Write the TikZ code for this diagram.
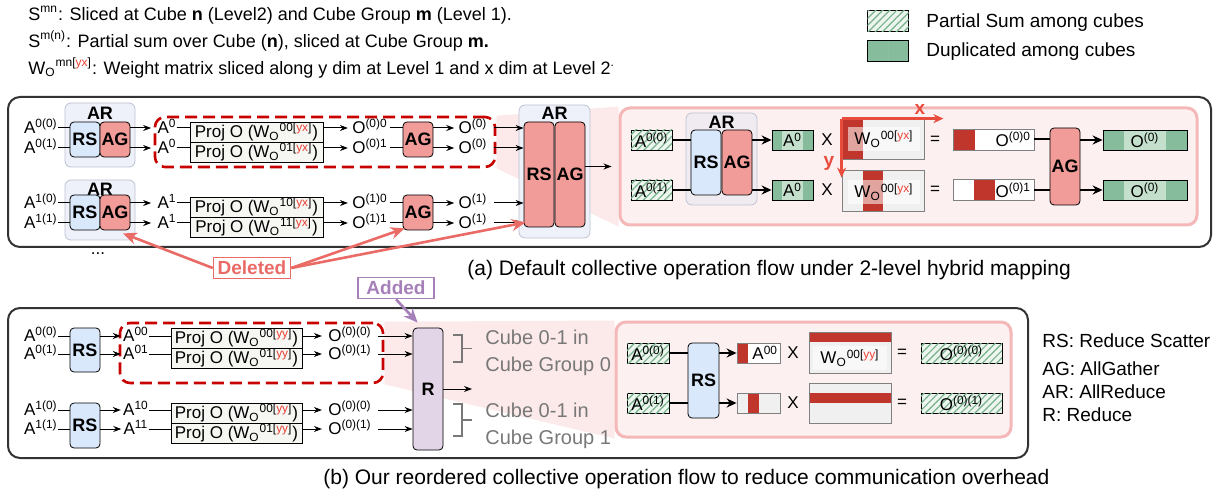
\documentclass[tikz,border=0pt]{standalone}
\usepackage{fontspec}
\setmainfont{Liberation Sans}
\usepackage{xcolor}
\usepackage{tikz}
\usetikzlibrary{arrows.meta, positioning, calc, patterns.meta}

\definecolor{argrpfill}{RGB}{238,241,250}
\definecolor{argrpline}{RGB}{190,195,210}
\definecolor{iargrpfill}{RGB}{240,235,240}
\definecolor{rsfill}{RGB}{218,232,252}
\definecolor{agfill}{RGB}{241,156,153}
\definecolor{rfill}{RGB}{225,213,231}
\definecolor{projfill}{RGB}{246,246,242}
\definecolor{dashred}{RGB}{200,0,0}
\definecolor{panelfill}{RGB}{253,240,240}
\definecolor{panelline}{RGB}{244,184,184}
\definecolor{funnelpink}{RGB}{252,230,230}
\definecolor{dupgreen}{RGB}{134,187,155}
\definecolor{dupmid}{RGB}{196,224,204}
\definecolor{hatchgreen}{RGB}{120,176,140}
\definecolor{hatchbg}{RGB}{236,245,238}
\definecolor{blockred}{RGB}{192,54,44}
\definecolor{wfill}{RGB}{240,240,240}
\definecolor{labred}{RGB}{232,64,52}
\definecolor{delred}{RGB}{234,107,102}
\definecolor{addpurple}{RGB}{166,128,184}
\definecolor{axisred}{RGB}{232,76,61}
\definecolor{cubegray}{RGB}{120,120,120}

\newcommand{\sps}[1]{\textsuperscript{#1}}
\newcommand{\Wo}[2]{W\textsubscript{O}\textsuperscript{#1[\textcolor{labred}{#2}]}}

\pgfdeclarelayer{bg}
\pgfsetlayers{bg,main}

\begin{document}
\begin{tikzpicture}[x=0.5pt, y=-0.5pt,
    >={Stealth[length=4pt,width=3pt]},
    every node/.style={inner sep=0pt, font=\fontsize{8.5}{10}\selectfont},
    op/.style={draw, rounded corners=2pt, minimum width=15pt, font=\fontsize{9}{10}\selectfont\bfseries},
    rsop/.style={op, fill=rsfill},
    agop/.style={op, fill=agfill},
    rop/.style={op, fill=rfill},
    grp/.style={draw=argrpline, fill=argrpfill, rounded corners=3pt},
    grplbl/.style={font=\fontsize{9}{10}\selectfont\bfseries},
    proj/.style={draw, fill=projfill, minimum height=10pt},
    dsh/.style={draw=dashred, dash pattern=on 6pt off 3pt, line width=1.3pt, rounded corners=5pt},
    pnl/.style={draw=panelline, fill=panelfill, line width=1.5pt, rounded corners=5pt},
    hat/.style={draw, fill=hatchbg, minimum height=10pt,
      postaction={pattern={Lines[angle=45,distance=2.5pt,line width=0.6pt]}, pattern color=hatchgreen}},
    dup/.style={draw, fill=dupgreen, minimum height=10pt,
      path picture={\fill[dupmid] ([xshift=-#1]path picture bounding box.south) rectangle ([xshift=#1]path picture bounding box.north);}},
    wbx/.style={draw=gray, fill=wfill, minimum width=41pt},
    obx/.style={draw=gray, fill=white, minimum height=10.5pt},
    redcol/.style 2 args={path picture={\fill[blockred] ([xshift=#1]path picture bounding box.south west) rectangle ([xshift=#2]path picture bounding box.north west);}},
    redrow/.style 2 args={path picture={\fill[blockred] ([yshift=-#1]path picture bounding box.north west) rectangle ([yshift=-#2]path picture bounding box.north east);}},
    wlbl/.style={fill=white, fill opacity=0.55, text opacity=1, minimum width=36pt, minimum height=12pt},
    flw/.style={->, line width=0.5pt},
    lnk/.style={line width=0.5pt},
    pflw/.style={-{Stealth[length=5pt,width=4.5pt]}, line width=1pt},
    plnk/.style={line width=1pt},
    axarr/.style={-{Stealth[length=5pt,width=4.5pt]}, draw=axisred, line width=1.2pt},
    axlbl/.style={text=axisred, font=\fontsize{9.5}{10}\selectfont\bfseries},
    frm/.style={draw=black!80, line width=1pt, rounded corners=6pt, fill=white},
    funnel/.style={fill=funnelpink, fill opacity=0.85},
    dellbl/.style={draw=delred, text=delred, fill=white, line width=0.8pt, font=\fontsize{9.5}{11}\selectfont\bfseries},
    delarr/.style={-{Stealth[length=7pt,width=6pt]}, draw=delred, line width=1.3pt},
    addlbl/.style={draw=addpurple, text=addpurple, fill=white, line width=0.8pt, font=\fontsize{9.5}{11}\selectfont\bfseries},
    addarr/.style={-{Stealth[length=7pt,width=6pt]}, draw=addpurple, line width=1.3pt},
    gtxt/.style={anchor=mid west, text=cubegray, font=\fontsize{10}{12}\selectfont},
    brk/.style={draw=cubegray, line width=0.9pt},
    hdr/.style={anchor=mid west, font=\fontsize{9}{11}\selectfont},
    capt/.style={anchor=mid west, font=\fontsize{10.5}{12}\selectfont},
    leg/.style={anchor=mid west, font=\fontsize{9.5}{11}\selectfont}]
  \useasboundingbox (0,0) rectangle (1225,497);

  % notation and legend
  \node[hdr] (h1) at (28,15) {S\sps{mn}: Sliced at Cube \textbf{n} (Level2) and Cube Group \textbf{m} (Level 1).};
  \node[hdr] (h2) at (28,42) {S\sps{m(n)}: Partial sum over Cube (\textbf{n}), sliced at Cube Group \textbf{m.}};
  \node[hdr] (h3) at (28,69) {\Wo{mn}{yx}: Weight matrix sliced along y dim at Level 1 and x dim at Level 2\sps{.}};
  \node[hat, minimum width=20.5pt, minimum height=10.5pt] (lgh) at (888,21) {};
  \node[leg] (lghtxt) at (926,22) {Partial Sum among cubes};
  \node[dup=0pt, minimum width=20.5pt, minimum height=10.5pt] (lgd) at (888,51) {};
  \node[leg] (lgdtxt) at (926,51) {Duplicated among cubes};

  % (a) default flow
  \node[pnl, minimum width=288.5pt, minimum height=58.5pt] (pna) at (908.5,166.5) {};
  \node[dsh, minimum width=170pt, minimum height=25pt] (dsa) at (325,142) {};

  \node[grp, minimum width=35pt, minimum height=32pt] (ar1) at (100,135) {};
  \node[grplbl] (ar1lbl) at (100,113) {AR};
  \node[rsop, minimum height=17.5pt] (rs1) at (85,139.5) {RS};
  \node[agop, minimum height=17.5pt] (ag1) at (115,139.5) {AG};
  \node[grp, minimum width=35pt, minimum height=30pt] (ar2) at (100,210) {};
  \node[grplbl] (ar2lbl) at (100,189) {AR};
  \node[rsop, minimum height=17.5pt] (rs2) at (85,212.5) {RS};
  \node[agop, minimum height=17.5pt] (ag2) at (115,212.5) {AG};

  \node[anchor=mid east] (a00) at (58,128) {A\sps{0(0)}};
  \node[anchor=mid east] (a01) at (58,148) {A\sps{0(1)}};
  \node[anchor=mid east] (a10) at (58,203) {A\sps{1(0)}};
  \node[anchor=mid east] (a11) at (58,223) {A\sps{1(1)}};
  \draw[lnk] (a00.mid east) -- (a00.mid east -| rs1.west);
  \draw[lnk] (a01.mid east) -- (a01.mid east -| rs1.west);
  \draw[lnk] (a10.mid east) -- (a10.mid east -| rs2.west);
  \draw[lnk] (a11.mid east) -- (a11.mid east -| rs2.west);

  \node[anchor=mid] (b00) at (167,128) {A\sps{0}};
  \node[anchor=mid] (b01) at (167,148) {A\sps{0}};
  \node[anchor=mid] (b10) at (167,203) {A\sps{1}};
  \node[anchor=mid] (b11) at (167,223) {A\sps{1}};
  \draw[flw, shorten >=3pt] (b00.mid west -| ag1.east) -- (b00.mid west);
  \draw[flw, shorten >=3pt] (b01.mid west -| ag1.east) -- (b01.mid west);
  \draw[flw, shorten >=3pt] (b10.mid west -| ag2.east) -- (b10.mid west);
  \draw[flw, shorten >=3pt] (b11.mid west -| ag2.east) -- (b11.mid west);

  \node[proj, minimum width=66.5pt] (pj00) at (256.5,132) {Proj O (\Wo{00}{yx})};
  \node[proj, minimum width=66.5pt] (pj01) at (256.5,152) {Proj O (\Wo{01}{yx})};
  \node[proj, minimum width=66.5pt] (pj10) at (256.5,207) {Proj O (\Wo{10}{yx})};
  \node[proj, minimum width=66.5pt] (pj11) at (256.5,227) {Proj O (\Wo{11}{yx})};
  \draw[lnk] (b00.mid east) -- (b00.mid east -| pj00.west);
  \draw[lnk] (b01.mid east) -- (b01.mid east -| pj01.west);
  \draw[lnk] (b10.mid east) -- (b10.mid east -| pj10.west);
  \draw[lnk] (b11.mid east) -- (b11.mid east -| pj11.west);

  \node[anchor=mid] (o00) at (370,128) {O\sps{(0)0}};
  \node[anchor=mid] (o01) at (370,148) {O\sps{(0)1}};
  \node[anchor=mid] (o10) at (370,203) {O\sps{(1)0}};
  \node[anchor=mid] (o11) at (370,223) {O\sps{(1)1}};
  \draw[flw, shorten >=2pt] (o00.mid west -| pj00.east) -- (o00.mid west);
  \draw[flw, shorten >=2pt] (o01.mid west -| pj01.east) -- (o01.mid west);
  \draw[flw, shorten >=2pt] (o10.mid west -| pj10.east) -- (o10.mid west);
  \draw[flw, shorten >=2pt] (o11.mid west -| pj11.east) -- (o11.mid west);

  \node[agop, minimum height=17.5pt] (ag3) at (418,139.5) {AG};
  \node[agop, minimum height=17.5pt] (ag4) at (418,212.5) {AG};
  \draw[lnk, shorten <=1pt] (o00.mid east) -- (o00.mid east -| ag3.west);
  \draw[lnk, shorten <=1pt] (o01.mid east) -- (o01.mid east -| ag3.west);
  \draw[lnk, shorten <=1pt] (o10.mid east) -- (o10.mid east -| ag4.west);
  \draw[lnk, shorten <=1pt] (o11.mid east) -- (o11.mid east -| ag4.west);

  \node[anchor=mid] (p00) at (473,128) {O\sps{(0)}};
  \node[anchor=mid] (p01) at (473,148) {O\sps{(0)}};
  \node[anchor=mid] (p10) at (473,203) {O\sps{(1)}};
  \node[anchor=mid] (p11) at (473,223) {O\sps{(1)}};
  \draw[flw, shorten >=2pt] (p00.mid west -| ag3.east) -- (p00.mid west);
  \draw[flw, shorten >=2pt] (p01.mid west -| ag3.east) -- (p01.mid west);
  \draw[flw, shorten >=2pt] (p10.mid west -| ag4.east) -- (p10.mid west);
  \draw[flw, shorten >=2pt] (p11.mid west -| ag4.east) -- (p11.mid west);

  \node[grp, minimum width=35.5pt, minimum height=66.5pt] (bar) at (554.5,171.5) {};
  \node[grplbl] (barlbl) at (554.5,113) {AR};
  \node[agop, minimum height=52.5pt] (brs) at (539,174.5) {RS};
  \node[agop, minimum height=52.5pt] (bag) at (570,174.5) {AG};
  \draw[flw, shorten <=3pt] (p00.mid east) -- (p00.mid east -| brs.west);
  \draw[flw, shorten <=3pt] (p01.mid east) -- (p01.mid east -| brs.west);
  \draw[flw, shorten <=3pt] (p10.mid east) -- (p10.mid east -| brs.west);
  \draw[flw, shorten <=3pt] (p11.mid east) -- (p11.mid east -| brs.west);
  \draw[flw, shorten >=3.5pt] (pna.west -| bag.east) -- (pna.west);

  % (a) zoomed view
  \node[hat, minimum width=20.5pt] (ha0) at (651.5,140) {A\sps{0(0)}};
  \node[hat, minimum width=20.5pt] (ha1) at (651.5,190) {A\sps{0(1)}};
  \node[grp, fill=iargrpfill, minimum width=35.5pt, minimum height=46pt] (iar) at (721.5,159) {};
  \node[grplbl] (iarlbl) at (721.5,122) {AR};
  \node[rsop, minimum height=32.5pt] (irs) at (706,162.5) {RS};
  \node[agop, minimum height=32.5pt] (iag) at (737,162.5) {AG};
  \draw[plnk] (ha0.east) -- (ha0.east -| irs.west);
  \draw[plnk] (ha1.east) -- (ha1.east -| irs.west);
  \node[dup=5.25pt, minimum width=20.5pt] (da0) at (792.5,140) {A\sps{0}};
  \node[dup=5.25pt, minimum width=20.5pt] (da1) at (792.5,190) {A\sps{0}};
  \draw[pflw] (da0.west -| iag.east) -- (da0.west);
  \draw[pflw] (da1.west -| iag.east) -- (da1.west);
  \node (xa0) at (827,140) {X};
  \node (xa1) at (827,190) {X};
  \node[wbx, minimum height=20pt, redcol={0pt}{10.5pt}] (wa0) at (883,139) {};
  \node[wlbl] (wla0) at (884,139) {\Wo{00}{yx}};
  \node[wbx, minimum height=20.5pt, redcol={10.5pt}{20.5pt}] (wa1) at (883,190.5) {};
  \node[wlbl] (wla1) at (884,192) {\Wo{00}{yx}};
  \draw[axarr] (wa0.north west) -- ([xshift=9.5pt]wa0.north east);
  \draw[axarr] (wa0.north west) -- ([yshift=-4pt]wa1.north west);
  \node[axlbl] (axx) at (920,109) {x};
  \node[axlbl] (axy) at (829,163) {y};
  \node (ea0) at (935,140) {=};
  \node (ea1) at (935,190) {=};
  \node[obx, minimum width=40.5pt, redcol={0pt}{11pt}, text width=37.5pt, align=right] (oa0) at (993.5,139.5) {O\sps{(0)0}\hspace*{3pt}};
  \node[obx, minimum width=40.5pt, redcol={10.5pt}{21pt}, text width=37.5pt, align=right] (oa1) at (993.5,190) {O\sps{(0)1}};
  \node[agop, minimum height=38.5pt] (oag) at (1065,166.5) {AG};
  \draw[plnk] (oa0.east) -- (oa0.east -| oag.west);
  \draw[plnk] (oa1.east) -- (oa1.east -| oag.west);
  \node[dup=10.5pt, minimum width=42pt] (ga0) at (1145,140) {O\sps{(0)}};
  \node[dup=10.5pt, minimum width=42pt] (ga1) at (1145,190) {O\sps{(0)}};
  \draw[pflw] (ga0.west -| oag.east) -- (ga0.west);
  \draw[pflw] (ga1.west -| oag.east) -- (ga1.west);

  \node (dots) at (98,254) {...};
  \node[dellbl, minimum width=38.5pt, minimum height=10.5pt] (del) at (252,268) {Deleted};
  \draw[delarr] (del.west) -- ([xshift=4pt,yshift=-1.5pt]ag2.south);
  \draw[delarr] (del.east) -- ([xshift=1pt,yshift=1pt]ag4.south west);
  \draw[delarr] (del.east) -- ([xshift=1pt,yshift=2.5pt]brs.south west);
  \node[capt] (capa) at (467,270) {(a) Default collective operation flow under 2-level hybrid mapping};

  % (b) reordered flow
  \node[pnl, minimum width=197.5pt, minimum height=57.5pt] (pnb) at (813.5,379.5) {};
  \node[dsh, minimum width=131.5pt, minimum height=30pt] (dsb) at (251.5,353) {};

  \node[rsop, minimum height=22pt] (rsb1) at (85,350) {RS};
  \node[rsop, minimum height=22.5pt] (rsb2) at (85,425.5) {RS};
  \node[anchor=mid east] (c00) at (58,336) {A\sps{0(0)}};
  \node[anchor=mid east] (c01) at (58,354) {A\sps{0(1)}};
  \node[anchor=mid east] (c10) at (58,410) {A\sps{1(0)}};
  \node[anchor=mid east] (c11) at (58,429) {A\sps{1(1)}};
  \draw[lnk] (c00.mid east) -- (c00.mid east -| rsb1.west);
  \draw[lnk] (c01.mid east) -- (c01.mid east -| rsb1.west);
  \draw[lnk] (c10.mid east) -- (c10.mid east -| rsb2.west);
  \draw[lnk] (c11.mid east) -- (c11.mid east -| rsb2.west);

  \node[anchor=mid] (d00) at (136,336) {A\sps{00}};
  \node[anchor=mid] (d01) at (136,354) {A\sps{01}};
  \node[anchor=mid] (d10) at (136,410) {A\sps{10}};
  \node[anchor=mid] (d11) at (136,429) {A\sps{11}};
  \draw[flw, shorten >=1pt] (d00.mid west -| rsb1.east) -- (d00.mid west);
  \draw[flw, shorten >=1pt] (d01.mid west -| rsb1.east) -- (d01.mid west);
  \draw[flw, shorten >=1pt] (d10.mid west -| rsb2.east) -- (d10.mid west);
  \draw[flw, shorten >=1pt] (d11.mid west -| rsb2.east) -- (d11.mid west);

  \node[proj, minimum width=65.5pt] (pjb00) at (236.5,338) {Proj O (\Wo{00}{yy})};
  \node[proj, minimum width=65.5pt] (pjb01) at (236.5,358) {Proj O (\Wo{01}{yy})};
  \node[proj, minimum width=65.5pt] (pjb10) at (236.5,413) {Proj O (\Wo{00}{yy})};
  \node[proj, minimum width=65.5pt] (pjb11) at (236.5,433) {Proj O (\Wo{01}{yy})};
  \draw[lnk] (d00.mid east) -- (d00.mid east -| pjb00.west);
  \draw[lnk] (d01.mid east) -- (d01.mid east -| pjb01.west);
  \draw[lnk] (d10.mid east) -- (d10.mid east -| pjb10.west);
  \draw[lnk] (d11.mid east) -- (d11.mid east -| pjb11.west);

  \node[anchor=mid] (e00) at (350,336) {O\sps{(0)(0)}};
  \node[anchor=mid] (e01) at (350,354) {O\sps{(0)(1)}};
  \node[anchor=mid] (e10) at (350,410) {O\sps{(0)(0)}};
  \node[anchor=mid] (e11) at (350,429) {O\sps{(0)(1)}};
  \draw[flw, shorten >=3pt] (e00.mid west -| pjb00.east) -- (e00.mid west);
  \draw[flw, shorten >=3pt] (e01.mid west -| pjb01.east) -- (e01.mid west);
  \draw[flw, shorten >=3pt] (e10.mid west -| pjb10.east) -- (e10.mid west);
  \draw[flw, shorten >=3pt] (e11.mid west -| pjb11.east) -- (e11.mid west);

  \node[rop, minimum height=61pt] (rr) at (428,389) {R};
  \draw[flw, shorten <=3pt] (e00.mid east) -- (e00.mid east -| rr.west);
  \draw[flw, shorten <=3pt] (e01.mid east) -- (e01.mid east -| rr.west);
  \draw[flw, shorten <=3pt] (e10.mid east) -- (e10.mid east -| rr.west);
  \draw[flw, shorten <=3pt] (e11.mid east) -- (e11.mid east -| rr.west);
  \coordinate (rout) at (472,389);
  \draw[flw] (rr.east) -- (rout);

  \draw[brk] (453,335) -- (462,335) -- (462,362) -- (453,362) (462,348.5) -- (472,348.5);
  \draw[brk] (453,404) -- (462,404) -- (462,436) -- (453,436) (462,420) -- (472,420);
  \node[gtxt] (cg0a) at (485,339) {Cube 0-1 in};
  \node[gtxt] (cg0b) at (485,366) {Cube Group 0};
  \node[gtxt] (cg1a) at (485,412) {Cube 0-1 in};
  \node[gtxt] (cg1b) at (485,439) {Cube Group 1};

  \node[addlbl, minimum width=38pt, minimum height=10.5pt] (add) at (396,288) {Added};
  \draw[addarr] (add.south) -- ([xshift=2.5pt,yshift=2.5pt]rr.north west);

  % (b) zoomed view
  \node[hat, minimum width=21pt] (hb0) at (648,353) {A\sps{0(0)}};
  \node[hat, minimum width=21pt] (hb1) at (648,403) {A\sps{0(1)}};
  \node[rsop, minimum height=37.5pt, minimum width=15.5pt] (rsb3) at (703.5,380.5) {RS};
  \draw[plnk] (hb0.east) -- (hb0.east -| rsb3.west);
  \draw[plnk] (hb1.east) -- (hb1.east -| rsb3.west);
  \node[obx, minimum width=21.5pt, minimum height=10pt, redcol={0pt}{5.5pt}, text width=19.5pt, align=right] (sa0) at (758.5,353) {A\sps{00}};
  \node[obx, fill=wfill, minimum width=21.5pt, minimum height=10pt, redcol={5.5pt}{11pt}] (sa1) at (758.5,403) {};
  \draw[pflw] (sa0.west -| rsb3.east) -- (sa0.west);
  \draw[pflw] (sa1.west -| rsb3.east) -- (sa1.west);
  \node (xb0) at (793,353) {X};
  \node (xb1) at (793,403) {X};
  \node[wbx, minimum height=20.5pt, redrow={0pt}{5pt}] (wb0) at (850,352.5) {};
  \node[wlbl, minimum width=37pt] (wlb0) at (850,358) {\Wo{00}{yy}};
  \node[wbx, minimum height=20pt, redrow={5pt}{10pt}] (wb1) at (850,403) {};
  \node (eb0) at (902,353) {=};
  \node (eb1) at (902,403) {=};
  \node[hat, minimum width=40.5pt] (ob0) at (961.5,353) {O\sps{(0)(0)}};
  \node[hat, minimum width=40.5pt] (ob1) at (961.5,403) {O\sps{(0)(1)}};

  \node[leg] (lrs) at (1042,342) {RS: Reduce Scatter};
  \node[leg] (lag) at (1042,370) {AG: AllGather};
  \node[leg] (lar) at (1042,393) {AR: AllReduce};
  \node[leg] (lr) at (1042,416) {R: Reduce};
  \node[capt] (capb) at (323,479) {(b) Our reordered collective operation flow to reduce communication overhead};

  % frames and zoom funnels
  \begin{pgfonlayer}{bg}
    \draw[frm] (8,97) rectangle (1211,247);
    \draw[frm] (8,308) rectangle (1028,458);
    \fill[funnel] (dsa.north east) -- (pna.north west) -- (pna.south west) -- (dsa.south east) -- cycle;
    \fill[funnel] (dsb.north east) -- (pnb.north west) -- (pnb.south west) -- (dsb.south east) -- cycle;
  \end{pgfonlayer}
\end{tikzpicture}
\end{document}
